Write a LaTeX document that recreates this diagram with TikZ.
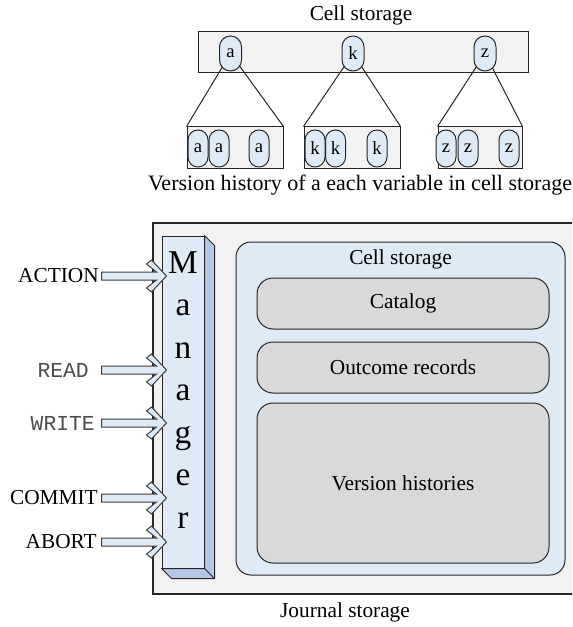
\documentclass[tikz,border=0pt]{standalone}
\usepackage{fontspec}
\setmainfont{Liberation Serif}
\setmonofont{Liberation Mono}
\usetikzlibrary{calc}
\definecolor{lblue}{HTML}{DEEBF7}
\definecolor{dblue}{HTML}{B4C7E7}
\definecolor{lgray}{HTML}{F2F2F2}
\definecolor{mgray}{HTML}{D9D9D9}
\definecolor{lc}{HTML}{262626}
\pgfdeclarelayer{back}
\pgfdeclarelayer{mid}
\pgfsetlayers{back,mid,main}
\newcommand{\blockarrow}[1]{%
  \coordinate (t#1) at ($(mgr.west |- #1)+(5,0)$);
  \draw[barrow] ($(t#1)+(-65,-4)$) -- ($(t#1)+(-10,-4)$) -- ($(t#1)+(-20,-12)$)
    -- ($(t#1)+(-15,-16)$) -- (t#1) -- ($(t#1)+(-15,16)$) -- ($(t#1)+(-20,12)$)
    -- ($(t#1)+(-10,4)$) -- ($(t#1)+(-65,4)$) -- cycle;}
\begin{document}
\begin{tikzpicture}[x=0.75pt,y=-0.75pt,
  txt/.style={font=\fontsize{16}{19}\selectfont, inner sep=0pt},
  mtxt/.style={font=\fontsize{16}{19}\selectfont\ttfamily, text=black!70, inner sep=0pt},
  boxg/.style={draw=lc, line width=0.75pt, fill=lgray, inner sep=0pt},
  oval/.style={draw=lc, line width=0.75pt, fill=lblue, inner sep=0pt,
     minimum width=16.5pt, minimum height=26.25pt, rounded corners=8.2pt,
     font=\fontsize{14}{16}\selectfont},
  soval/.style={oval, minimum width=15pt, minimum height=27.75pt, rounded corners=7.4pt},
  hbox/.style={draw=lc, line width=0.75pt, fill=mgray, rounded corners=12pt,
     minimum width=219pt, inner sep=0pt, font=\fontsize{16}{19}\selectfont},
  barrow/.style={draw=lc!90, line width=0.75pt, fill=lblue, line join=miter},
  link/.style={draw=lc, line width=0.75pt},
  mletter/.style={font=\fontsize{25}{30}\selectfont, inner sep=0pt, anchor=base}]
\useasboundingbox (0,0) rectangle (572,627);
\clip (0,0) rectangle (572,627);

% ---------- top part ----------
\node[txt] (toptitle) at (361,15) {Cell storage};
\begin{pgfonlayer}{back}
\node[boxg, minimum width=247.5pt, minimum height=30.75pt] (topbox) at (363,52.5) {};
\end{pgfonlayer}
\node[oval] (a) at (230.5,53.5) {a};
\node[oval] (k) at (353,53.5) {k};
\node[oval] (z) at (485,53.5) {z};

\node[boxg, minimum width=72pt, minimum height=31.5pt] (b1) at (235,148) {};
\node[boxg, minimum width=72pt, minimum height=31.5pt] (b2) at (352,148) {};
\node[boxg, minimum width=63pt, minimum height=31.5pt] (b3) at (480,148) {};

\node[soval] (a1) at (198,148.5) {a};
\node[soval] (a2) at (219,148.5) {a};
\node[soval] (a3) at (259,148.5) {a};
\node[soval] (k1) at (315,148.5) {k};
\node[soval] (k2) at (335.5,148.5) {k};
\node[soval] (k3) at (377,148.5) {k};
\node[soval] (z1) at (446,148.5) {z};
\node[soval] (z2) at (468,148.5) {z};
\node[soval] (z3) at (509,148.5) {z};

\begin{pgfonlayer}{mid}
\draw[link] (b1.north west) -- (a.center) -- (b1.north east);
\draw[link] (b2.north west) -- (k.center) -- (b2.north east);
\draw[link] (b3.north west) -- (z.center) -- (b3.north east);
\end{pgfonlayer}

\node[txt, font=\fontsize{16.5}{19}\selectfont] (vhcap) at (360,185) {Version history of a each variable in cell storage};

% ---------- journal storage ----------
\draw[line width=1pt, draw=lc, fill=lgray] (153,223) rectangle (580,594);
\node[txt] (journal) at (345,612) {Journal storage};

\node[draw=lc, line width=0.75pt, fill=lblue, rounded corners=11.25pt,
      minimum width=246.75pt, minimum height=249.75pt, inner sep=0pt] (cell) at (400.5,408.5) {};
\node[txt] (celltitle) at (400.5,259) {Cell storage};
\node[hbox, minimum height=38.25pt] (catalog) at (403,303.5) {Catalog};
\node[hbox, minimum height=38.25pt] (outcome) at (403,367.5) {Outcome records};
\node[hbox, minimum height=120pt] (vhist) at (403,483) {Version histories};

% ---------- manager ----------
\node[draw=lc, line width=0.75pt, fill=lblue, minimum width=31.5pt, minimum height=249pt,
      inner sep=0pt] (mgr) at (183,402) {};
\draw[draw=lc, line width=0.75pt, fill=dblue, line join=round]
  (mgr.north east) -- ($(mgr.north east)+(10,10)$) -- ($(mgr.south east)+(10,10)$)
  -- ($(mgr.south west)+(10,10)$) -- (mgr.south west) -- (mgr.south east) -- cycle;
\draw[draw=lc, line width=0.75pt] (mgr.south east) -- ($(mgr.south east)+(10,10)$);
\node[mletter] (m1) at (183,273) {M};
\node[mletter] (m2) at (183,315.5) {a};
\node[mletter] (m3) at (183,358) {n};
\node[mletter] (m4) at (183,400.5) {a};
\node[mletter] (m5) at (183,443) {g};
\node[mletter] (m6) at (183,485.5) {e};
\node[mletter] (m7) at (183,528) {r};

% ---------- inputs ----------
\node[txt, anchor=east] (act) at (99,276) {ACTION};
\node[mtxt, anchor=east] (rd) at (89,370) {READ};
\node[mtxt, anchor=east] (wr) at (95,423) {WRITE};
\node[txt, anchor=east] (cm) at (98,498) {COMMIT};
\node[txt, anchor=east] (ab) at (97,542) {ABORT};
\blockarrow{act}
\blockarrow{rd}
\blockarrow{wr}
\blockarrow{cm}
\blockarrow{ab}
\end{tikzpicture}
\end{document}
